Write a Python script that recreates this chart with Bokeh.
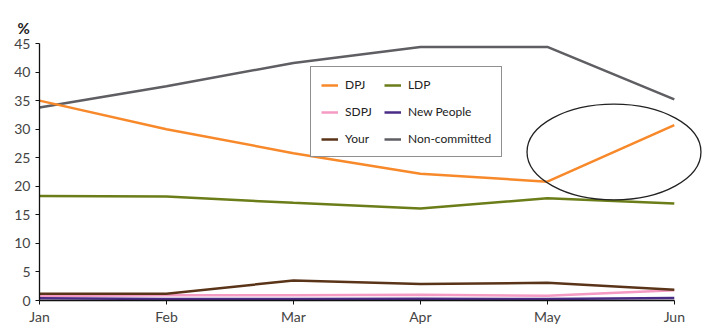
from bokeh.plotting import figure
from bokeh.models import Legend, LegendItem, FixedTicker, Range1d
from bokeh.embed import file_html
from bokeh.resources import INLINE

months = ["Jan", "Feb", "Mar", "Apr", "May", "Jun"]
dpj = [35.0, 30.0, 25.8, 22.2, 20.8, 30.7]
ldp = [18.3, 18.2, 17.1, 16.1, 17.9, 17.0]
sdpj = [0.8, 0.9, 0.9, 1.0, 0.85, 1.8]
new_people = [0.4, 0.25, 0.25, 0.3, 0.25, 0.45]
your = [1.2, 1.2, 3.5, 2.9, 3.1, 1.9]
non_committed = [33.8, 37.5, 41.6, 44.4, 44.4, 35.2]
y_ticks = [0, 5, 10, 15, 20, 25, 30, 35, 40, 45]

FONT = "Lato"
x = list(range(len(months)))

p = figure(width=707, height=327, output_backend="svg", toolbar_location=None,
           x_range=Range1d(0, 5.23), y_range=Range1d(0, 45),
           min_border_left=39, min_border_right=4, min_border_top=43, min_border_bottom=26,
           title="%")
p.title.align = "left"
p.title.vertical_align = "top"
p.title.offset = -22
p.title.text_font = FONT
p.title.text_font_style = "bold"
p.title.text_font_size = "15px"
p.title.text_color = "#222222"
p.title.standoff = 10
p.outline_line_color = None
p.xgrid.grid_line_color = None
p.ygrid.grid_line_color = None

series = [
    ("Non-committed", non_committed, "#5E5E63"),
    ("DPJ", dpj, "#F7892B"),
    ("LDP", ldp, "#6A7D18"),
    ("SDPJ", sdpj, "#F49AC3"),
    ("Your", your, "#5A3418"),
    ("New People", new_people, "#4A2B86"),
]
renderers = {}
for name, vals, col in series:
    renderers[name] = p.line(x, vals, line_color=col, line_width=2.5)

# highlight ellipse
p.ellipse(x=[4.525], y=[26.0], width=[1.37], height=[16.75],
          fill_color=None, line_color="#222222", line_width=1.3)

# legend is filled column by column: 3 rows x 2 columns
order = ["DPJ", "SDPJ", "Your", "LDP", "New People", "Non-committed"]
legend = Legend(items=[LegendItem(label=n, renderers=[renderers[n]]) for n in order],
                ncols=2, location=(271, 143),
                border_line_color="#222222", border_line_width=1,
                label_text_font=FONT, label_text_font_size="12px",
                label_text_color="#222222",
                glyph_width=17, glyph_height=14, label_standoff=7,
                spacing=12, padding=10, margin=0, label_height=14)
p.add_layout(legend, "center")

p.xaxis.ticker = FixedTicker(ticks=x)
p.xaxis.bounds = (0, 5)
p.xaxis.major_label_overrides = {i: m for i, m in enumerate(months)}
p.yaxis.ticker = FixedTicker(ticks=y_ticks)
for ax in (p.xaxis, p.yaxis):
    ax.axis_line_color = "#111111"
    ax.axis_line_width = 1.3
    ax.major_tick_line_color = "#111111"
    ax.minor_tick_line_color = None
    ax.major_tick_in = 0
    ax.major_tick_out = 4
    ax.major_label_text_font = FONT
    ax.major_label_text_font_size = "14px"
    ax.major_label_text_color = "#444444"
p.xaxis.major_label_standoff = 3
p.yaxis.major_label_standoff = 5

open("out.html", "w").write(file_html(p, INLINE))
